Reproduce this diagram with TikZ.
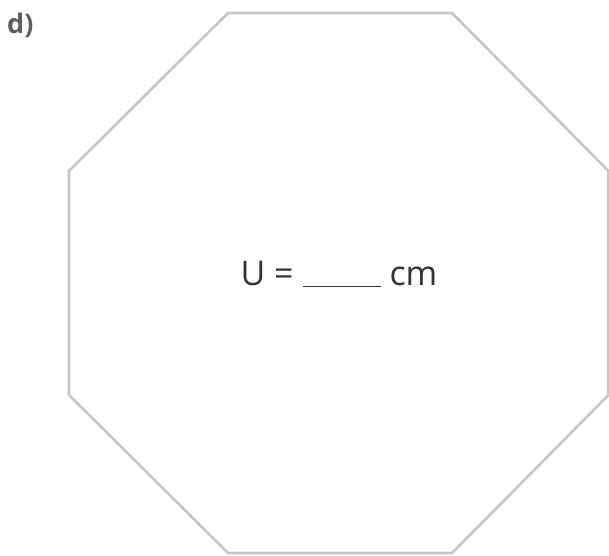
\documentclass[tikz,border=0pt]{standalone}
\usepackage{fontspec}
\setmainfont{Open Sans}
\usepackage{tikz}
\usetikzlibrary{positioning}
\definecolor{edgegray}{HTML}{C6C6C6}
\definecolor{labelgray}{HTML}{5F5F5F}
\definecolor{textdark}{HTML}{333333}

\begin{document}
\begin{tikzpicture}[x=1pt, y=1pt,
    shapeline/.style={edgegray, line width=2.6pt, line join=miter},
    tasklabel/.style={labelgray, font=\fontsize{27}{30}\selectfont\bfseries, inner sep=0pt, anchor=base west},
    formula/.style={textdark, font=\fontsize{34}{40}\selectfont, inner sep=0pt, anchor=base}]
    \useasboundingbox (0,0) rectangle (609,555);

    % Task label
    \node[tasklabel] (task) at (7,521) {d)};

    % Octagon
    \draw[shapeline] (228,542) -- (452,542) -- (608.5,384) -- (608.5,160)
        -- (452,2) -- (228,2) -- (69,160) -- (69,384) -- cycle;

    % Perimeter blank
    \node[formula] (perim) at (339,270) {U = \underline{\hspace{2.3em}} cm};
\end{tikzpicture}
\end{document}
